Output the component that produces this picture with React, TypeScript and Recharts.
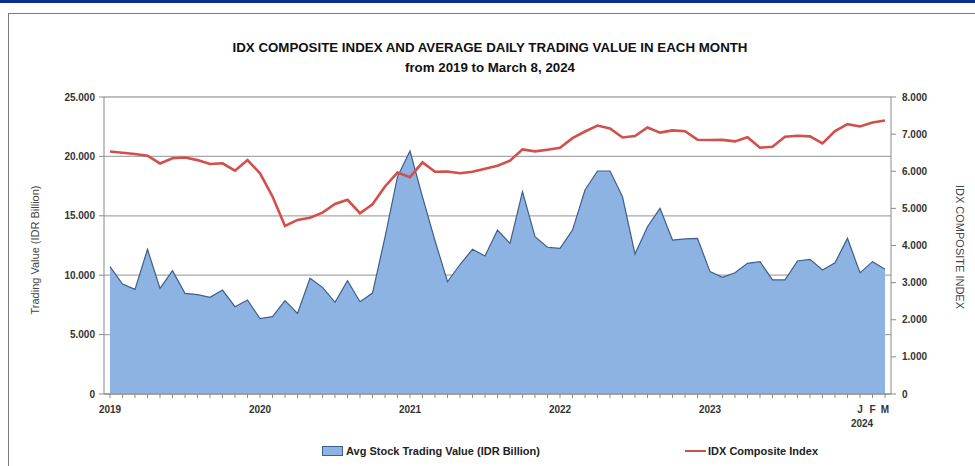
import React from 'react';
import { ComposedChart, Area, Line, XAxis, YAxis, CartesianGrid } from 'recharts';

const YEARS = ['2019', '2020', '2021', '2022', '2023', '2024'];
const MONTHS = ['J', 'F', 'M', 'A', 'M', 'J', 'J', 'A', 'S', 'O', 'N', 'D'];

// avg daily stock trading value, IDR billion (Jan 2019 .. Mar 2024)
const tradingValue = [
  10720, 9260, 8810, 12180, 8890, 10380, 8470, 8360, 8140, 8750, 7350, 7910,
  6340, 6510, 7860, 6790, 9740, 8980, 7720, 9540, 7770, 8500, 13200, 18300,
  20450, 16600, 12900, 9450, 10900, 12180, 11620, 13800, 12680, 17030, 13240, 12350,
  12260, 13800, 17170, 18770, 18770, 16600, 11780, 14080, 15630, 12960, 13050, 13100,
  10300, 9820, 10200, 11000, 11140, 9600, 9600, 11200, 11340, 10440, 11050, 13100,
  10200, 11140, 10500,
];

// IDX composite index, month end
const idxComposite = [
  6530, 6500, 6465, 6420, 6210, 6350, 6370, 6300, 6195, 6215, 6015, 6300,
  5945, 5320, 4525, 4690, 4750, 4885, 5120, 5230, 4870, 5110, 5590, 5965,
  5840, 6240, 5985, 5995, 5945, 5985, 6070, 6150, 6285, 6590, 6535, 6580,
  6630, 6890, 7070, 7230, 7150, 6910, 6950, 7180, 7040, 7100, 7080, 6850,
  6840, 6845, 6805, 6915, 6635, 6660, 6930, 6955, 6940, 6750, 7080, 7270,
  7205, 7315, 7365,
];

const leftTicks = [0, 5000, 10000, 15000, 20000, 25000];
const rightTicks = [0, 1000, 2000, 3000, 4000, 5000, 6000, 7000, 8000];

const data = tradingValue.map((v, i) => ({
  key: `${YEARS[Math.floor(i / 12)]}-${i % 12}`,
  year: YEARS[Math.floor(i / 12)],
  month: i % 12,
  value: v,
  idx: idxComposite[i],
}));

const fmt = (v: number) => (v === 0 ? '0' : v.toLocaleString('de-DE'));

const FONT = '"Liberation Sans", Arial, sans-serif';

function XTick(props: any) {
  const { x, y, payload } = props;
  const d = data.find((r) => r.key === payload.value);
  if (!d) return null;
  const is2024 = d.year === '2024';
  if (!is2024 && d.month !== 0) return null;
  return (
    <g>
      <text x={x} y={y + 13} textAnchor="middle" fontSize={10} fontWeight="bold" fill="#333" fontFamily={FONT}>
        {is2024 ? MONTHS[d.month] : d.year}
      </text>
      {is2024 && d.month === 0 && (
        <text x={x + 2} y={y + 27} textAnchor="middle" fontSize={10} fontWeight="bold" fill="#333" fontFamily={FONT}>
          2024
        </text>
      )}
    </g>
  );
}

export default function App() {
  return (
    <div style={{ position: 'absolute', left: 0, top: 0, width: 975, height: 466, background: '#fff', overflow: 'hidden' }}>
      <div style={{ position: 'absolute', left: 0, top: 0, width: 975, height: 3, background: '#0d2d8c' }} />
      <div style={{ position: 'absolute', left: 8, top: 13, width: 967, height: 460, borderTop: '1px solid #7a7a7a', borderLeft: '1px solid #7a7a7a' }} />
      <div style={{ position: 'absolute', left: 0, width: 980, top: 38, textAlign: 'center', fontFamily: FONT, fontWeight: 'bold', fontSize: 13.3, lineHeight: '20px', color: '#111' }}>
        IDX COMPOSITE INDEX AND AVERAGE DAILY TRADING VALUE IN EACH MONTH
        <br />
        from 2019 to March 8, 2024
      </div>
      <div style={{ position: 'absolute', left: 35, top: 250, transform: 'translate(-50%, -50%) rotate(-90deg)', whiteSpace: 'nowrap', fontFamily: FONT, fontSize: 11, color: '#444' }}>
        Trading Value (IDR Billion)
      </div>
      <div style={{ position: 'absolute', left: 960, top: 247, transform: 'translate(-50%, -50%) rotate(90deg)', whiteSpace: 'nowrap', fontFamily: FONT, fontSize: 11, color: '#444' }}>
        IDX COMPOSITE INDEX
      </div>
      <div style={{ position: 'absolute', left: 0, top: 0 }}>
        <ComposedChart width={975} height={466} data={data} margin={{ top: 97, right: 24, bottom: 42, left: 44 }}>
          <CartesianGrid vertical={false} stroke="#a8a8a8" strokeWidth={1.3} yAxisId="left" />
          <XAxis
            dataKey="key"
            interval={0}
            tick={<XTick />}
            tickSize={4}
            height={30}
            padding={{ left: 6, right: 6 }}
            stroke="#8a8a8a"
          />
          <YAxis
            yAxisId="left"
            domain={[0, 25000]}
            ticks={leftTicks}
            tickFormatter={fmt}
            width={60}
            tickSize={5}
            tickMargin={4}
            stroke="#8a8a8a"
            tick={{ fontSize: 10, fontWeight: 'bold', fill: '#333', fontFamily: FONT }}
          />
          <YAxis
            yAxisId="right"
            orientation="right"
            domain={[0, 8000]}
            ticks={rightTicks}
            tickFormatter={fmt}
            width={60}
            tickSize={5}
            tickMargin={6}
            stroke="#8a8a8a"
            tick={{ fontSize: 10, fontWeight: 'bold', fill: '#333', fontFamily: FONT, textAnchor: 'start' }}
          />
          <Area
            yAxisId="left"
            type="linear"
            dataKey="value"
            fill="#8db3e2"
            fillOpacity={1}
            stroke="#3d5f8c"
            strokeWidth={1.2}
            isAnimationActive={false}
          />
          <Line
            yAxisId="right"
            type="linear"
            dataKey="idx"
            stroke="#d24f4b"
            strokeWidth={2.6}
            dot={false}
            isAnimationActive={false}
          />
        </ComposedChart>
      </div>
      <div style={{ position: 'absolute', left: 322, top: 445, display: 'flex', alignItems: 'center', fontFamily: FONT, fontSize: 11, fontWeight: 'bold', color: '#222' }}>
        <span style={{ display: 'inline-block', width: 19, height: 8, background: '#8db3e2', border: '1px solid #3d5f8c', marginRight: 3 }} />
        Avg Stock Trading Value (IDR Billion)
      </div>
      <div style={{ position: 'absolute', left: 685, top: 445, display: 'flex', alignItems: 'center', fontFamily: FONT, fontSize: 11, fontWeight: 'bold', color: '#222' }}>
        <span style={{ display: 'inline-block', width: 21, height: 2.6, background: '#d24f4b', marginRight: 2 }} />
        IDX Composite Index
      </div>
    </div>
  );
}
